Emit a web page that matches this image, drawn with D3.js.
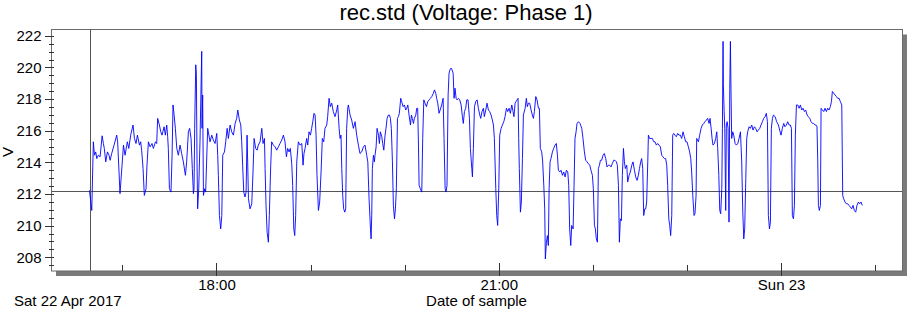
<!DOCTYPE html>
<html>
<head>
<meta charset="utf-8">
<script src="https://cdnjs.cloudflare.com/ajax/libs/d3/7.8.5/d3.min.js"></script>
<style>
  body { margin: 0; background: #fff; }
  svg text { font-family: "Liberation Sans", Arial, sans-serif; fill: #000; }
</style>
</head>
<body>
<svg id="chart" width="916" height="318"></svg>
<script>
/*
rec.std voltage record, phase 1
*/

// Require D3
if (!window.d3) { throw "d3 wasn't included!"; }

// Texts
var chartTitle = "rec.std (Voltage: Phase 1)";
var xTitle = "Date of sample";
var yTitle = "V";
var dateLabel = "Sat 22 Apr 2017";

// Time window shown, and start of the record (sample times are minutes after it)
var recordStart = "2017-04-22T16:00:00";
var viewStart = "2017-04-22T16:14:30";
var viewEnd = "2017-04-23T01:17:06";

// Labelled hours
var majorTimes = ["2017-04-22T18:00:00", "2017-04-22T21:00:00", "2017-04-23T00:00:00"];
var majorLabels = ["18:00", "21:00", "Sun 23"];

// Voltage axis
var voltRange = [207.13, 222.4];
var voltTicks = [208, 210, 212, 214, 216, 218, 220, 222];

// Cursor crosshair (time in minutes after record start, volts)
var cursorMinute = 39.1;
var cursorVolt = 212.22;

// Samples: [minutes after 16:00, volts]
var samples = [
  [39.0,212.23],[40.5,210.96],[41.5,215.30],[42.2,214.45],[43.0,214.66],[43.7,214.24],[44.7,214.45],[45.8,214.35],
  [47.1,215.68],[47.9,215.19],[48.5,214.88],[49.4,214.03],[50.5,214.66],[51.5,214.45],[52.2,214.13],[53.2,214.56],
  [54.7,215.09],[56.4,215.72],[57.0,215.30],[58.5,212.02],[59.8,213.82],[60.7,215.09],[61.7,214.45],[63.2,215.30],
  [64.1,214.88],[65.3,215.72],[66.8,216.36],[67.7,215.51],[68.7,215.19],[69.6,215.72],[70.9,215.09],[71.7,215.30],
  [72.3,214.77],[73.2,213.61],[74.0,211.91],[75.1,212.33],[75.7,213.82],[76.6,215.30],[77.7,214.98],[78.9,215.19],
  [79.8,214.88],[81.1,215.30],[81.9,215.19],[82.5,216.78],[83.6,216.36],[84.5,215.93],[85.3,215.72],[86.6,216.25],
  [87.4,215.72],[88.3,216.36],[88.9,215.62],[89.3,214.88],[90.0,212.33],[91.0,212.12],[91.7,214.45],[92.3,217.63],
  [93.0,216.99],[93.8,216.15],[94.7,214.88],[95.7,214.45],[96.8,215.09],[97.8,214.56],[98.9,214.03],[100.2,213.18],
  [101.0,214.03],[102.1,215.93],[102.9,216.15],[103.8,215.51],[104.6,213.61],[105.3,212.02],[105.7,212.33],[106.1,216.15],
  [106.8,220.17],[107.2,219.54],[107.6,214.03],[108.0,211.06],[108.7,212.33],[109.5,215.30],[110.6,221.02],[110.8,216.15],
  [111.2,218.26],[111.7,211.91],[112.5,212.33],[113.1,212.12],
  [114.4,216.15],[115.9,215.30],[117.0,215.72],[118.0,215.41],[119.1,215.19],[120.2,215.83],[120.8,214.45],[121.2,213.18],
  [121.9,210.64],[122.7,209.79],[123.4,210.64],[124.0,214.45],[125.1,214.66],[125.9,215.30],[126.8,216.15],[127.6,215.51],
  [128.7,216.36],[129.7,215.93],[130.8,215.72],[131.9,216.46],[132.9,216.78],[133.6,217.31],[134.6,216.68],[135.5,216.36],
  [136.1,215.30],[136.7,213.82],[137.4,212.12],[138.2,211.81],[138.9,212.12],[139.5,215.72],[139.9,214.03],[140.4,211.70],
  [141.4,211.06],[142.5,211.38],[143.3,213.39],[144.0,215.51],[145.0,214.88],[145.9,214.77],[146.7,215.09],[147.8,215.30],
  [148.9,216.15],[149.7,215.19],[150.6,215.51],[151.0,213.61],[151.6,211.28],[152.3,209.58],[153.1,208.95],[153.7,210.64],
  [154.6,213.82],[155.2,215.30],[156.3,215.09],[157.4,214.98],[158.4,214.77],[159.5,214.98],[160.5,215.19],[161.6,215.41],
  [162.7,215.72],[163.7,215.30],[164.6,214.35],[165.4,214.88],[166.3,214.66],[167.1,214.88],[168.0,213.92],[168.6,212.55],
  [169.3,209.79],[169.9,209.37],[170.5,210.64],[171.2,214.03],[172.2,215.30],[173.3,215.09],[174.4,215.19],[175.2,213.82],
  [175.8,214.56],[176.5,214.88],[177.5,215.51],[178.2,215.09],[179.0,215.93],[179.9,215.72],[180.7,216.15],[181.4,216.57],
  [182.2,217.10],[182.9,216.99],[183.5,215.72],[184.1,213.18],[185.0,210.96],[185.8,211.49],[186.7,213.39],[187.5,215.51],
  [188.4,215.30],[189.2,216.15],[190.3,216.36],[190.9,216.89],[191.8,218.05],[192.6,217.52],[193.5,217.74],[194.5,217.21],
  [195.6,216.89],[196.7,217.31],[197.3,217.63],[198.2,216.15],[198.8,215.51],[199.4,215.72],[199.9,213.61],[200.5,211.91],
  [201.1,211.06],[201.8,210.85],[202.4,211.06],[203.0,216.15],[203.7,217.42],[204.1,217.63],[205.2,216.99],[206.2,216.68],
  [207.3,216.15],[208.4,216.57],[209.4,215.72],[210.5,215.09],[211.5,214.56],[212.6,214.66],[213.7,214.98],[214.7,215.09],
  [215.8,214.45],[216.5,214.03],[217.3,211.70],[218.2,209.79],[218.6,209.16],[219.0,210.64],[219.4,213.61],[220.1,214.45],
  [220.7,214.03],[221.1,214.45],[221.8,214.98],[222.4,216.15],[223.3,215.72],[223.9,215.19],[224.5,215.93],[225.4,215.62],
  [226.0,215.19],[226.7,214.77],[227.5,215.72],[228.1,216.15],[228.8,216.78],[229.6,216.99],[230.3,216.99],[230.9,216.78],
  [231.5,216.15],[232.2,214.03],[232.8,211.28],[233.5,210.43],[234.1,211.06],[234.7,212.33],[235.4,216.78],[236.0,216.89],
  [236.6,217.10],[237.5,218.05],[238.1,217.84],[239.0,217.52],[239.8,217.63],[240.7,217.31],[241.3,217.42],[242.0,217.63],
  [242.8,216.99],[243.7,216.36],[244.3,216.99],[244.9,216.78],[245.6,216.46],[246.2,216.78],[247.1,216.99],[247.7,217.42],
  [248.3,217.42],[248.8,215.09],[249.2,212.55],[250.0,212.33],[250.9,212.12],[251.5,215.51],[252.2,217.95],[253.0,217.74],
  [253.9,217.52],[254.7,217.84],[255.6,217.95],[256.4,218.05],[257.3,218.16],[258.3,218.37],[259.0,218.58],[259.8,218.37],
  [260.4,218.05],[261.1,217.74],[261.9,217.10],[262.6,217.31],[263.6,217.63],[264.5,218.05],[265.1,215.51],[265.8,212.33],
  [266.4,212.12],[267.0,212.55],[267.7,218.26],[268.3,219.64],[268.9,219.85],[269.6,219.96],[270.2,219.85],[270.9,219.64],
  [271.5,218.05],[272.1,218.69],[272.8,218.05],[273.4,217.95],[274.3,218.05],[275.1,217.95],[276.0,217.63],[276.8,216.89],
  [277.4,216.46],[278.1,217.21],[278.9,217.42],[279.6,217.95],[280.4,217.95],[281.3,216.78],[281.9,214.88],[282.8,213.61],
  [283.2,213.08],[283.8,214.88],[284.5,217.52],[285.3,217.84],[286.2,217.95],[287.0,217.42],[287.9,216.99],[288.5,216.78],
  [289.3,217.21],[290.2,217.42],[290.8,216.89],[291.7,217.31],[292.5,217.74],[293.4,217.31],[294.2,217.21],[295.1,216.99],
  [295.9,216.68],[296.6,216.36],[297.2,215.51],[298.1,212.33],[298.7,210.64],[299.3,210.01],[300.0,212.33],[300.6,215.72],
  [301.5,216.15],[302.3,216.36],[303.2,216.57],[304.0,216.89],[304.9,217.42],[305.7,217.21],[306.6,217.42],[307.4,217.10],
  [308.3,217.63],[309.1,217.21],[309.7,216.89],[310.4,217.74],[311.0,217.84],[311.7,217.95],[312.3,218.05],[312.7,215.51],
  [313.1,213.61],[313.8,210.85],[314.4,211.49],[315.1,214.24],[315.7,216.99],[316.8,217.42],[317.6,218.05],[318.2,217.52],
  [318.9,217.74],
  [319.7,217.74],[320.6,217.31],[321.4,216.99],[322.1,216.78],[322.7,217.21],[323.6,218.16],[324.4,217.95],[325.3,217.42],
  [325.9,217.42],[326.5,214.88],[327.4,214.66],[328.0,214.03],[328.7,212.55],[329.3,211.06],[329.7,207.89],[330.4,208.95],
  [331.0,209.37],[331.6,208.74],[332.1,212.33],[332.7,214.03],[333.3,214.24],[334.2,214.66],[335.0,214.88],[335.9,215.09],
  [336.7,215.19],[337.4,214.45],[338.0,213.50],[338.9,213.39],[339.7,213.50],[340.6,213.18],[341.4,213.39],[342.3,213.08],
  [343.1,213.50],[344.0,213.39],[344.6,212.55],[345.2,209.79],[345.9,208.74],[346.5,210.01],[347.4,209.79],[348.0,212.55],
  [348.6,215.51],[349.3,215.93],[349.9,216.46],[350.8,216.57],[351.8,216.46],[352.9,216.15],[353.7,215.51],[354.6,214.66],
  [355.4,214.13],[356.3,214.03],[357.1,213.92],[358.0,213.82],[358.8,213.50],[359.7,213.18],[360.3,212.33],[361.0,210.01],
  [361.6,209.79],[362.2,209.16],[362.9,208.95],[363.5,213.61],[364.2,213.82],[364.8,214.13],[365.6,214.13],[366.5,214.45],
  [367.3,214.56],[368.2,214.24],[369.0,213.71],[369.9,213.82],[370.7,213.82],[371.6,213.71],[372.4,213.92],[373.3,214.13],
  [374.1,214.13],[375.0,214.03],[375.6,213.82],[376.3,212.55],[376.9,208.95],[377.5,210.43],[378.2,210.32],[378.8,213.18],
  [379.5,214.88],[380.1,214.03],[380.7,213.61],[381.6,213.82],[382.2,212.76],[383.1,213.18],[383.9,213.39],[384.8,213.82],
  [385.6,214.03],[386.5,213.50],[387.3,213.08],[388.2,212.86],[389.0,213.18],[389.7,213.61],[390.5,214.03],[391.1,214.24],
  [391.8,213.61],[392.4,210.64],[393.1,211.06],[393.7,211.06],[394.3,211.49],[395.0,214.03],[395.4,215.72],[396.2,215.51],
  [397.1,215.51],[397.9,215.51],[398.8,215.30],[399.6,215.30],[400.5,215.09],[401.3,215.19],[402.2,215.09],[403.0,214.98],
  [403.9,214.45],[404.7,214.35],[405.6,214.24],[406.4,214.24],[407.1,213.82],[407.7,212.55],[408.4,210.43],[409.0,210.01],
  [409.6,209.37],[410.3,210.64],[410.9,215.72],[411.5,215.83],[412.4,215.72],[413.2,215.62],[414.1,215.83],[414.9,215.72],
  [415.8,215.72],[416.6,215.51],[417.5,215.93],[418.3,215.62],[419.2,215.30],[420.0,215.30],[420.9,214.98],[421.7,214.66],
  [422.4,214.24],[423.0,213.39],[423.7,211.91],[424.5,210.64],[425.1,210.75],[425.8,211.91],
  [426.2,215.51],[427.3,215.30],[428.1,215.72],[429.0,216.15],[429.8,216.36],[430.7,216.46],[431.5,216.57],[432.4,216.68],
  [433.2,216.78],[434.1,216.46],[434.7,216.78],[435.4,216.15],[436.0,215.51],[436.6,215.09],[437.5,215.19],[438.3,215.51],
  [439.0,215.93],[439.6,214.88],[440.3,213.18],[440.9,210.96],[441.5,210.75],[442.2,212.33],[442.6,216.15],[443.0,221.65],
  [443.2,218.90],[443.7,217.21],[444.1,216.15],[444.7,210.96],[445.1,216.36],[445.6,216.57],[446.2,216.15],[446.8,210.22],
  [447.3,218.69],[447.7,221.65],[448.1,218.26],[448.5,215.51],[449.2,215.93],[449.8,215.72],[450.7,215.19],[451.5,215.09],
  [452.4,215.19],[453.2,215.51],[454.1,215.93],[454.9,214.03],[455.6,210.85],[456.2,209.16],[456.8,209.79],[457.5,212.97],
  [458.1,215.51],[458.7,215.93],[459.6,216.25],[460.4,216.15],[461.3,216.36],[462.1,216.04],[463.0,216.25],[463.8,216.15],
  [464.7,215.93],[465.5,216.04],[466.4,216.15],[467.2,216.36],[468.1,216.57],[468.9,216.78],[469.8,216.89],[470.6,217.10],
  [471.3,216.57],[471.9,210.64],[472.6,209.79],[473.2,210.22],[473.8,216.15],[474.5,216.78],[475.1,216.99],[476.2,216.89],
  [477.2,216.57],[478.3,216.36],[479.1,216.04],[480.0,215.72],[480.8,216.15],[481.7,216.46],[482.5,216.25],[483.4,216.36],
  [484.2,216.57],[485.1,216.36],[485.9,216.36],[486.6,216.15],[487.2,210.64],[487.9,210.43],[488.5,211.28],[489.1,215.72],
  [489.8,217.63],[490.6,217.63],[491.5,217.42],[492.3,217.63],[493.2,217.31],[494.0,217.42],[494.9,217.21],[495.7,217.31],
  [496.6,216.99],[497.4,216.89],[498.3,216.78],[499.1,216.57],[500.0,216.46],[500.8,216.46],[501.7,216.36],[502.3,216.36],
  [502.9,216.25],[503.4,214.03],[503.8,211.28],[504.4,210.96],[505.1,211.28],[505.5,217.42],[506.3,217.31],[507.2,217.21],
  [508.0,217.42],[508.9,217.21],[509.7,217.42],[510.6,217.31],[511.4,217.52],[512.1,217.84],[512.7,218.48],[513.6,218.37],
  [514.4,218.26],[515.3,218.16],[516.1,218.05],[517.0,218.05],[517.8,217.84],[518.7,217.63],[519.3,211.91],[519.9,211.70],
  [520.8,211.49],[521.6,211.38],[522.5,211.38],[523.3,211.28],[524.2,211.17],[525.0,211.06],[525.9,211.28],[526.7,210.96],
  [527.6,210.85],[528.4,211.28],[529.3,211.49],[530.1,211.38],[531.0,211.49],[531.8,211.28]
];

// Layout
var box = { left: 51, top: 29.5, right: 902, bottom: 271 };
var shadow = 5;

var parseTime = d3.timeParse("%Y-%m-%dT%H:%M:%S");
var t0 = parseTime(recordStart);

function atMinute(m) {
  return new Date(t0.getTime() + m * 60000);
}

function translate(x, y) {
  return "translate(" + x + " " + y + ")";
}

// Scales
var x = d3.scaleTime()
  .domain([parseTime(viewStart), parseTime(viewEnd)])
  .range([box.left, box.right]);

var y = d3.scaleLinear()
  .domain(voltRange)
  .range([box.bottom, box.top]);

var svg = d3.select("#chart");

// Drop shadow and frame
svg.append("rect")
  .attr("x", box.left + shadow)
  .attr("y", box.top + shadow)
  .attr("width", box.right - box.left)
  .attr("height", box.bottom - box.top)
  .style("fill", "#7a7a7a");

svg.append("rect")
  .attr("x", box.left + 0.5)
  .attr("y", box.top)
  .attr("width", box.right - box.left)
  .attr("height", box.bottom - box.top)
  .style("fill", "#fff")
  .style("stroke", "#6b6b6b")
  .style("stroke-width", 1);

// Voltage axis: major ticks with labels, minor every 0.5 V
var minorVolts = d3.range(207.5, 222.01, 0.5).filter(function(v) { return v % 2 !== 0; });

var yMinor = svg.append("g")
  .attr("transform", translate(box.left + 2.5, 0))
  .call(d3.axisLeft(y).tickValues(minorVolts).tickSize(4.5).tickFormat(""));

var yMajor = svg.append("g")
  .attr("transform", translate(box.left + 2.5, 0))
  .call(d3.axisLeft(y).tickValues(voltTicks).tickSize(8.5).tickPadding(3.5).tickFormat(d3.format("d")));

// Time axis: hour ticks, labelled every three hours
var hours = d3.timeHour.range(x.domain()[0], x.domain()[1]);
var majorDates = majorTimes.map(parseTime);
var minorDates = hours.filter(function(h) { return h.getHours() % 3 !== 0; });

var xMinor = svg.append("g")
  .attr("transform", translate(0, box.bottom))
  .call(d3.axisBottom(x).tickValues(minorDates).tickSize(-6).tickFormat(""));

var xMajor = svg.append("g")
  .attr("transform", translate(0, box.bottom - 8))
  .call(d3.axisBottom(x).tickValues(majorDates).tickSize(13).tickPadding(3)
    .tickFormat(function(d, i) { return majorLabels[i]; }));

[yMinor, yMajor, xMinor, xMajor].forEach(function(g) {
  g.select(".domain").remove();
  g.selectAll(".tick line").style("stroke", "#333").attr("shape-rendering", "crispEdges");
  g.selectAll(".tick text")
    .style("font-size", "15px")
    .style("font-family", "'Liberation Sans', Arial, sans-serif")
    .style("fill", "#000");
});

// Cursor crosshair
svg.append("line")
  .attr("x1", Math.round(x(atMinute(cursorMinute))) + 0.5)
  .attr("x2", Math.round(x(atMinute(cursorMinute))) + 0.5)
  .attr("y1", box.top)
  .attr("y2", box.bottom)
  .style("stroke", "#555");

svg.append("line")
  .attr("x1", box.left)
  .attr("x2", box.right)
  .attr("y1", Math.round(y(cursorVolt)) + 0.5)
  .attr("y2", Math.round(y(cursorVolt)) + 0.5)
  .style("stroke", "#555");

// Voltage trace
var line = d3.line()
  .x(function(d) { return x(atMinute(d[0])); })
  .y(function(d) { return y(d[1]); });

svg.append("path")
  .datum(samples)
  .attr("d", line)
  .style("fill", "none")
  .style("stroke", "#0000ff")
  .style("stroke-width", 0.9)
  .style("stroke-linejoin", "round");

// Titles
svg.append("text")
  .attr("x", 466)
  .attr("y", 20)
  .attr("text-anchor", "middle")
  .style("font-size", "22px")
  .text(chartTitle);

svg.append("text")
  .attr("x", (box.left + box.right) / 2)
  .attr("y", 306)
  .attr("text-anchor", "middle")
  .style("font-size", "15px")
  .text(xTitle);

svg.append("text")
  .attr("x", 14)
  .attr("y", 306)
  .style("font-size", "15px")
  .text(dateLabel);

svg.append("text")
  .attr("transform", translate(13, 152) + " rotate(-90)")
  .attr("text-anchor", "middle")
  .style("font-size", "15px")
  .text(yTitle);
</script>
</body>
</html>
